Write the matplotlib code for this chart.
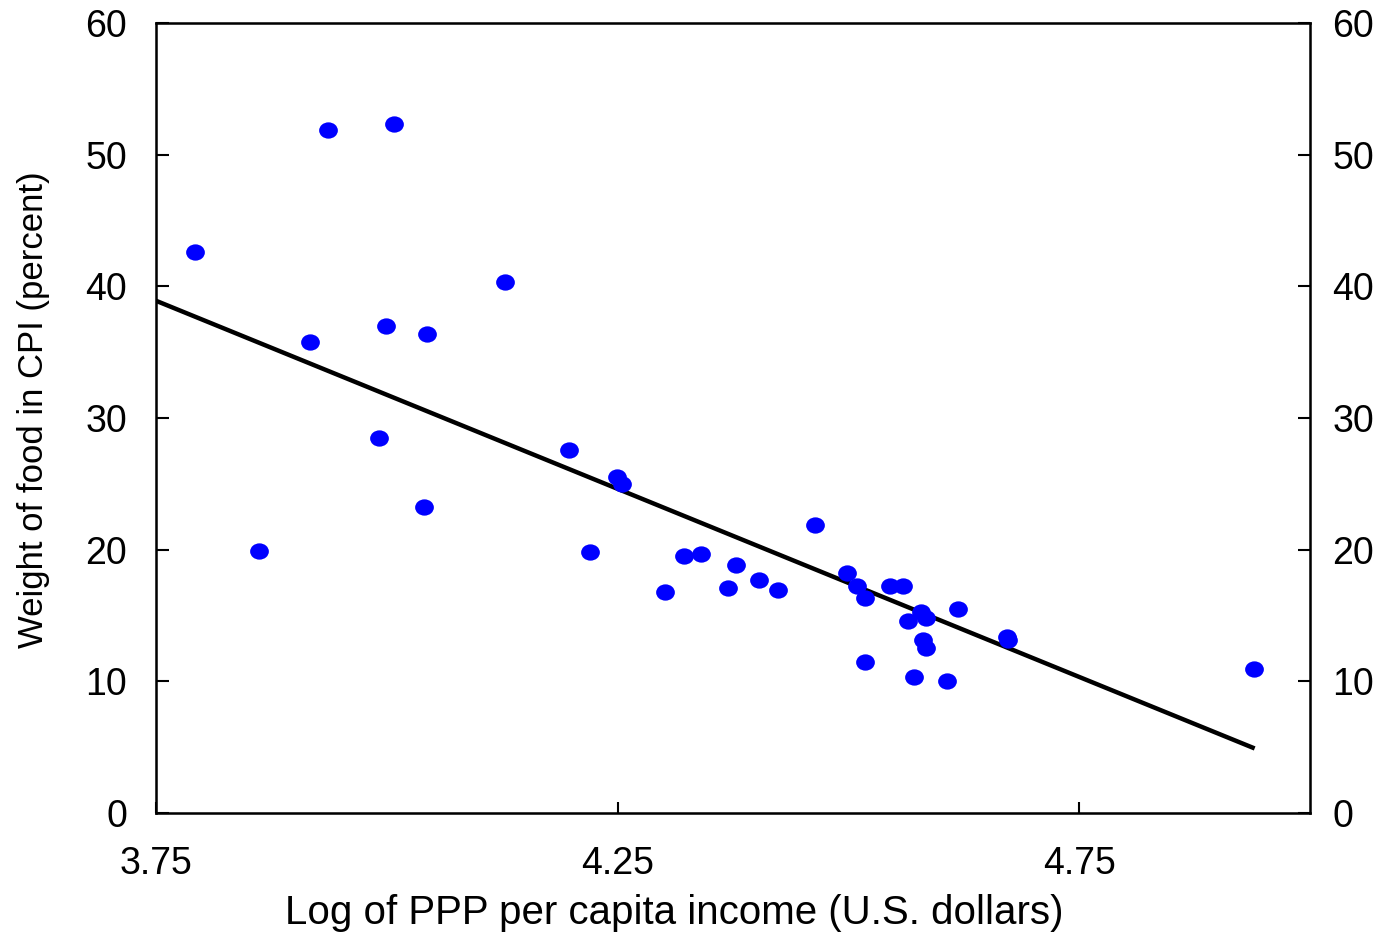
import matplotlib
matplotlib.use("Agg")
import matplotlib.pyplot as plt
from matplotlib.path import Path
from matplotlib.markers import MarkerStyle
from matplotlib.transforms import Affine2D

plt.rcParams['font.family'] = ['Liberation Sans', 'DejaVu Sans']

# log of PPP per capita income vs. food weight in CPI, one point per country
log_income = [3.792, 3.861, 3.917, 3.936, 3.991, 3.999, 4.008, 4.040, 4.044, 4.128,
              4.197, 4.220, 4.249, 4.255, 4.301, 4.322, 4.340, 4.370, 4.378, 4.403,
              4.424, 4.464, 4.498, 4.509, 4.518, 4.545, 4.559, 4.564, 4.579, 4.584,
              4.581, 4.584, 4.619, 4.518, 4.571, 4.607, 4.672, 4.673, 4.939]
food_weight = [42.6, 19.9, 35.8, 51.9, 28.5, 37.0, 52.3, 23.2, 36.4, 40.3,
               27.6, 19.8, 25.5, 25.0, 16.8, 19.5, 19.7, 17.1, 18.8, 17.7,
               16.9, 21.9, 18.2, 17.2, 16.3, 17.2, 17.2, 14.6, 15.3, 14.8,
               13.1, 12.5, 15.5, 11.5, 10.3, 10.0, 13.4, 13.1, 10.9]

# fitted line end points
fit_x = [3.75, 4.94]
fit_y = [38.9, 4.9]

x_ticks = [3.75, 4.25, 4.75]
y_ticks = [0, 10, 20, 30, 40, 50, 60]

# slightly wide oval marker
oval = Path.unit_circle().transformed(Affine2D().scale(1.15, 1.0))
dot = MarkerStyle(oval)

fig = plt.figure(figsize=(13.86, 9.34), dpi=100)
ax = fig.add_axes([0.1126, 0.1296, 0.8326, 0.8458])

ax.plot(fit_x, fit_y, color='black', lw=3.2, solid_capstyle='butt', zorder=2)
ax.plot(log_income, food_weight, linestyle='none', marker=dot, markersize=13.5,
        markerfacecolor='#0000ff', markeredgecolor='#0000ff', markeredgewidth=0,
        zorder=3)

ax.set_xlim(3.75, 5.0)
ax.set_ylim(0, 60)
ax.set_xticks(x_ticks)
ax.set_xticklabels(['3.75', '4.25', '4.75'])
ax.set_yticks(y_ticks)

for side in ['left', 'right', 'top', 'bottom']:
    ax.spines[side].set_linewidth(1.8)

ax.tick_params(axis='x', direction='in', length=8, width=1.5, pad=24, labelsize=27)
ax.tick_params(axis='y', direction='in', length=9, width=1.5, pad=21, labelsize=27)

ax2 = ax.twinx()
ax2.set_ylim(0, 60)
ax2.set_yticks(y_ticks)
ax2.tick_params(axis='y', direction='in', length=9, width=1.5, pad=16, labelsize=27)

ax.set_xlabel('Log of PPP per capita income (U.S. dollars)', fontsize=29)
ax.xaxis.set_label_coords(0.449, -0.102)
ax.set_ylabel('Weight of food in CPI (percent)', fontsize=25)
ax.yaxis.set_label_coords(-0.092, 0.511)

fig.savefig('out.png', dpi=100)
